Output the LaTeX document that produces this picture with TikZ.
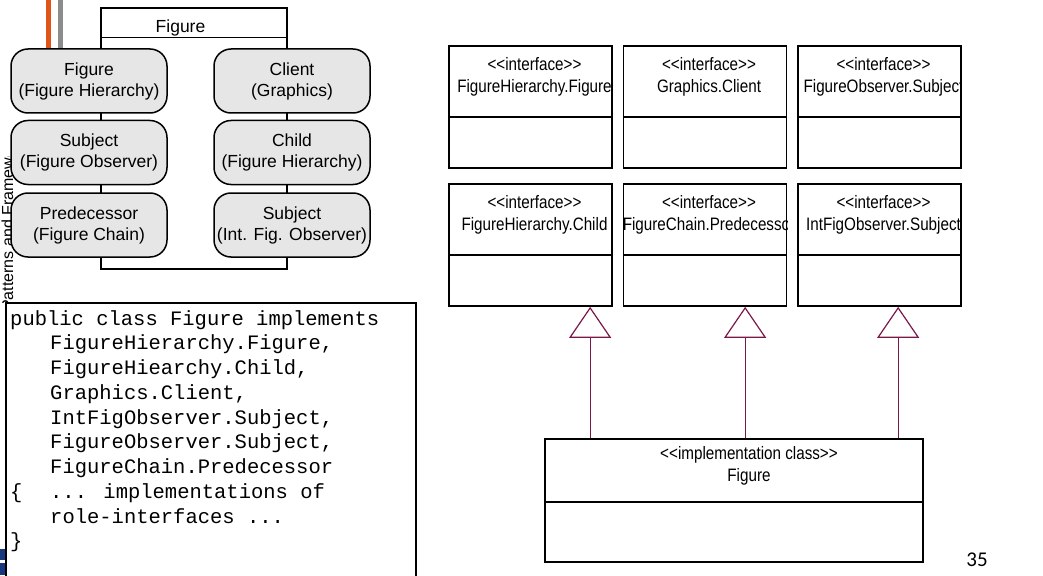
\documentclass[tikz,border=0pt]{standalone}
\usepackage{fontspec}
\setmainfont{Liberation Sans}
\newfontfamily\umlfont[FakeStretch=0.845]{Liberation Sans}
\newfontfamily\codefont{Liberation Mono}
\newfontfamily\numfont{Carlito}
\usetikzlibrary{arrows.meta,calc}
\definecolor{roleorange}{RGB}{224,84,26}
\definecolor{rolegray}{RGB}{140,140,140}
\definecolor{rolefill}{RGB}{230,230,230}
\definecolor{genline}{RGB}{122,24,72}
\definecolor{logoblue}{RGB}{25,55,125}
\newcommand\dlt{<\kern0pt<}
\newcommand\dgt{>\kern0pt>}
\begin{document}
\begin{tikzpicture}[x=1pt,y=-1pt,
  rolebox/.style={draw=black, line width=1.5pt, fill=rolefill, rounded corners=17pt,
    minimum width=156pt, minimum height=64pt, inner sep=0pt, align=center,
    font=\fontsize{17.5}{21}\selectfont},
  compbox/.style={draw=black, line width=1.4pt, fill=white, minimum width=186pt,
    minimum height=261pt, inner sep=0pt},
  ifbox/.style={draw=black, line width=1.7pt, fill=white, minimum width=163pt,
    minimum height=122pt, inner sep=0pt},
  implbox/.style={draw=black, line width=1.7pt, fill=white, minimum width=378pt,
    minimum height=123pt, inner sep=0pt},
  umltext/.style={align=center, inner sep=0pt, font=\umlfont\fontsize{18}{21.5}\selectfont},
  codebox/.style={draw=black, line width=1.6pt, fill=white, minimum width=410pt,
    minimum height=290pt, inner sep=0pt, anchor=north west},
  codeline/.style={anchor=base west, inner sep=0pt, font=\codefont\fontsize{20.5}{24.75}\selectfont},
  gen/.style={draw=genline, line width=1.2pt,
    -{Triangle[open, length=31pt, width=42pt, line width=1.2pt]}},
  divider/.style={draw=black, line width=1.7pt}
]
\useasboundingbox (0,0) rectangle (1043,575);
\fill[white] (0,0) rectangle (1043,575);

% slide decorations
\fill[roleorange] (46,0) rectangle (51,49);
\fill[rolegray] (58,0) rectangle (63,49);
\begin{scope}
  \clip (0,156) rectangle (16,302);
  \node[rotate=90, anchor=base west, inner sep=0pt, font=\fontsize{16}{19}\selectfont] (footer) at (13,311) {Patterns and Frameworks};
\end{scope}
\fill[logoblue] (0,549) rectangle (5,560);
\fill[logoblue] (0,563) rectangle (6,575);

% left: role composition
\node[compbox] (figcomp) at (194,138.5) {};
\draw[line width=1.4pt] ($(figcomp.north west)+(0,30)$) -- ($(figcomp.north east)+(0,30)$);
\node[inner sep=0pt, font=\fontsize{17.5}{21}\selectfont] (figlabel) at (180.5,27.5) {Figure};

\node[rolebox] (rfig)   at (89,81)    {Figure\\(Figure Hierarchy)};
\node[rolebox] (rsubj)  at (89,152.5) {Subject\\(Figure Observer)};
\node[rolebox] (rpred)  at (89,225)   {Predecessor\\(Figure Chain)};
\node[rolebox] (rcli)   at (292,81)   {Client\\(Graphics)};
\node[rolebox] (rchild) at (292,152.5){Child\\(Figure Hierarchy)};
\node[rolebox] (rsubj2) at (292,225)  {Subject\\(Int. Fig. Observer)};

% code box
\node[codebox] (code) at (5,302) {};
\node[codeline] (c1)  at (10,325)   {public class Figure implements};
\node[codeline] (c2)  at (50,349.75){FigureHierarchy.Figure,};
\node[codeline] (c3)  at (50,374.5) {FigureHiearchy.Child,};
\node[codeline] (c4)  at (50,399.25){Graphics.Client,};
\node[codeline] (c5)  at (50,424)   {IntFigObserver.Subject,};
\node[codeline] (c6)  at (50,448.75){FigureObserver.Subject,};
\node[codeline] (c7)  at (50,473.5) {FigureChain.Predecessor};
\node[codeline] (c8)  at (10,498.25){\makebox[40pt][l]{\{}... implementations of};
\node[codeline] (c9)  at (50,523)   {role-interfaces ...};
\node[codeline] (c10) at (10,547.75){\}};

% right: UML interfaces
\foreach \nm/\cx/\cy in {hfig/530.5/107, gcli/705/107, fosub/879.5/107,
                         hchild/530.5/245, fcpred/705/245, ifsub/879.5/245}{
  \node[ifbox] (\nm) at (\cx,\cy) {};
  \draw[divider] ($(\nm.north west)+(0,72)$) -- ($(\nm.north east)+(0,72)$);
}
\begin{scope}\clip (hfig.south west) rectangle (hfig.north east);
  \node[umltext] (thfig) at ($(hfig.north)+(4,31.5)$) {\dlt interface\dgt\\FigureHierarchy.Figure};
\end{scope}
\begin{scope}\clip (gcli.south west) rectangle (gcli.north east);
  \node[umltext] (tgcli) at ($(gcli.north)+(4,31.5)$) {\dlt interface\dgt\\Graphics.Client};
\end{scope}
\begin{scope}\clip (fosub.south west) rectangle (fosub.north east);
  \node[umltext] (tfosub) at ($(fosub.north)+(4,31.5)$) {\dlt interface\dgt\\FigureObserver.Subject};
\end{scope}
\begin{scope}\clip (hchild.south west) rectangle (hchild.north east);
  \node[umltext] (thchild) at ($(hchild.north)+(4,31.5)$) {\dlt interface\dgt\\FigureHierarchy.Child};
\end{scope}
\begin{scope}\clip (fcpred.south west) rectangle (fcpred.north east);
  \node[umltext] (tfcpred) at ($(fcpred.north)+(4,31.5)$) {\dlt interface\dgt\\FigureChain.Predecessor};
\end{scope}
\begin{scope}\clip (ifsub.south west) rectangle (ifsub.north east);
  \node[umltext] (tifsub) at ($(ifsub.north)+(4,31.5)$) {\dlt interface\dgt\\IntFigObserver.Subject};
\end{scope}

% implementation class
\node[implbox] (impl) at (734,500.5) {};
\draw[divider] ($(impl.north west)+(0,64)$) -- ($(impl.north east)+(0,64)$);
\node[umltext] (timpl) at ($(impl.north)+(15,27.5)$) {\dlt implementation class\dgt\\Figure};

% generalization connectors
\coordinate (a1) at ($(impl.north west)+(46,0)$);
\coordinate (a2) at ($(impl.north west)+(201,0)$);
\coordinate (a3) at ($(impl.north west)+(354,0)$);
\draw[gen] (a1) -- (a1 |- hchild.south);
\draw[gen] (a2) -- (a2 |- fcpred.south);
\draw[gen] (a3) -- (a3 |- ifsub.south);

% page number
\node[inner sep=0pt, font=\numfont\fontsize{21}{25}\selectfont] (pagenum) at (977,560) {35};
\end{tikzpicture}
\end{document}
